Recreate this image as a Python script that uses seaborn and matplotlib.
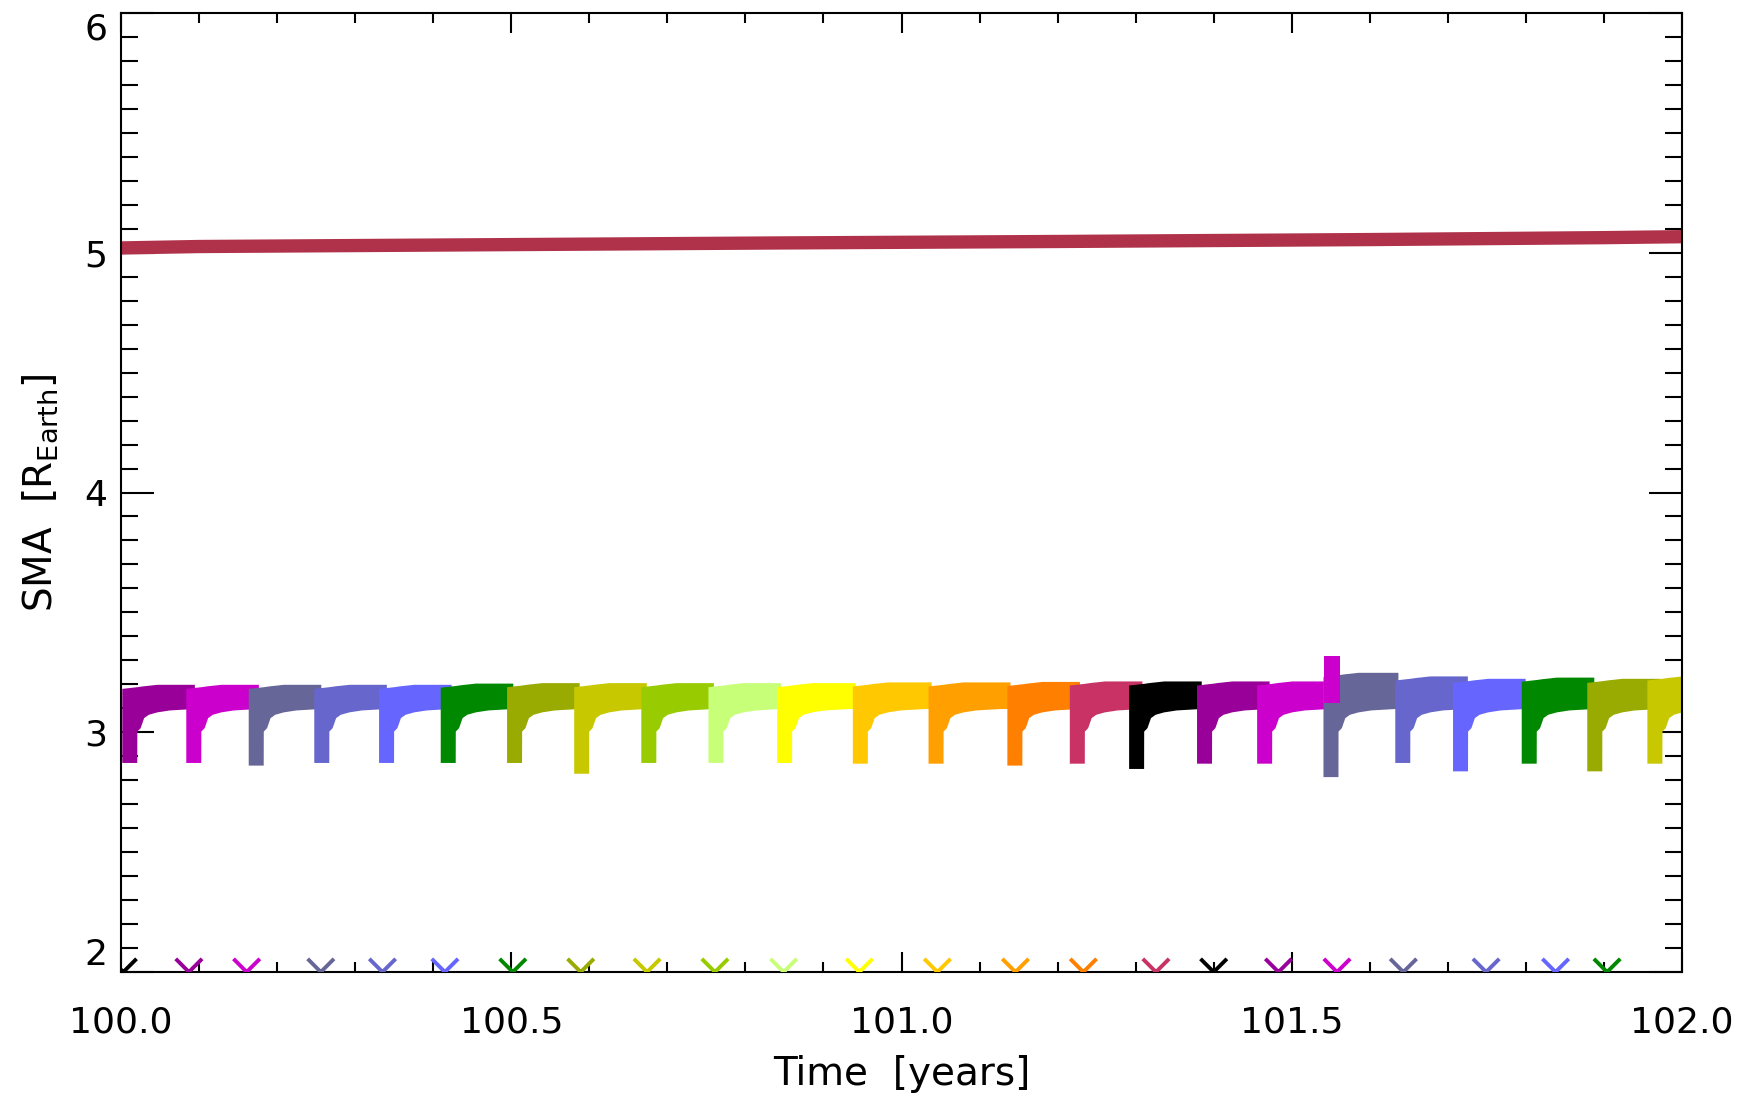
import numpy as np
import pandas as pd
import matplotlib
matplotlib.use("Agg")
import matplotlib.pyplot as plt
from matplotlib.ticker import MultipleLocator, FormatStrFormatter
import seaborn as sns

# colour cycle of the batches (IDL style table)
palette = ['#000000', '#990099', '#CC00CC', '#666699', '#6666CC', '#6666FF',
           '#008800', '#99AA00', '#C8C800', '#99CC00', '#C8FF78', '#FFFF00',
           '#FFC800', '#FFA000', '#FF8000', '#C83264']

# thick red line: SMA of the outer body
red_t = [100.0, 100.1, 100.5, 100.85, 101.2, 101.6, 101.9, 102.0]
red_sma = [5.020, 5.026, 5.034, 5.041, 5.047, 5.055, 5.063, 5.067]

# each batch: start time, lowest SMA of the stem, top of the band
seg_start = [100.001, 100.083, 100.163, 100.247, 100.330, 100.409, 100.494, 100.580,
             100.666, 100.752, 100.840, 100.937, 101.034, 101.135, 101.215, 101.291,
             101.378, 101.455, 101.540, 101.632, 101.706, 101.794, 101.878, 101.955]
seg_bottom = [2.874, 2.874, 2.863, 2.874, 2.874, 2.874, 2.874, 2.829,
              2.874, 2.874, 2.874, 2.871, 2.871, 2.863, 2.871, 2.849,
              2.871, 2.871, 2.815, 2.874, 2.839, 2.871, 2.839, 2.871]
seg_top = [3.200, 3.200, 3.200, 3.200, 3.200, 3.205, 3.207, 3.207,
           3.207, 3.207, 3.207, 3.210, 3.210, 3.212, 3.214, 3.214,
           3.214, 3.214, 3.250, 3.235, 3.225, 3.230, 3.225, 3.235]

# shape of one hook
hook_stem = 0.0192
hook_dt = [0.0193, 0.0235, 0.028, 0.034, 0.045, 0.061, 0.092]
hook_lo = [3.005, 3.019, 3.061, 3.075, 3.085, 3.093, 3.099]
hook_top_drop = [0.017, 0.010, 0.010, 0.008, 0.006, 0.004, 0.0, 0.0, 0.0]

# spike at the end of the second magenta batch
spike_t = [101.541, 101.562]
spike_lo = [3.12, 3.12]
spike_hi = [3.32, 3.32]

# event markers along the bottom axis
event_t = [100.003, 100.087, 100.161, 100.256, 100.335, 100.415, 100.502, 100.589,
           100.674, 100.761, 100.849, 100.946, 101.046, 101.146, 101.233, 101.326,
           101.400, 101.483, 101.558, 101.643, 101.749, 101.838, 101.904]

sns.set_style("ticks")
plt.rcParams['font.family'] = ['DejaVu Sans']
plt.rcParams['mathtext.fontset'] = 'dejavusans'
plt.rcParams['text.color'] = 'black'
plt.rcParams['axes.labelcolor'] = 'black'

fig = plt.figure(figsize=(17.56, 10.99), dpi=100)
ax = fig.add_axes([121 / 1756, 1 - 972 / 1099, 1561 / 1756, 959 / 1099])

# batches, later ones drawn over the tail of the earlier ones
for j, t0 in enumerate(seg_start):
    t_next = seg_start[j + 1] if j + 1 < len(seg_start) else 102.05
    t_end = max(t_next - t0 + 0.004, hook_dt[-1] + 0.001)
    dt = np.array([0.0, hook_stem] + hook_dt + [t_end])
    lo = np.array([seg_bottom[j], seg_bottom[j]] + hook_lo + [hook_lo[-1]])
    hi = seg_top[j] - np.array(hook_top_drop + [0.0])
    ax.fill_between(t0 + dt, lo, hi, color=palette[(j + 1) % len(palette)],
                    linewidth=0, zorder=2)

ax.fill_between(spike_t, spike_lo, spike_hi, color=palette[2], linewidth=0, zorder=3)

sns.lineplot(x=red_t, y=red_sma, color='#B0324A', linewidth=9.6, ax=ax, zorder=2)

events = pd.DataFrame({
    't': event_t,
    'sma': [2.0] * len(event_t),
    'colour': [palette[i % len(palette)] for i in range(len(event_t))],
})
sns.scatterplot(data=events, x='t', y='sma', hue='colour',
                palette={c: c for c in palette}, marker='x', s=360,
                linewidth=2.8, legend=False, ax=ax, zorder=4)

ax.set_xlim(100, 102)
ax.set_ylim(2, 6)
ax.xaxis.set_major_locator(MultipleLocator(0.5))
ax.xaxis.set_minor_locator(MultipleLocator(0.1))
ax.yaxis.set_major_locator(MultipleLocator(1))
ax.yaxis.set_minor_locator(MultipleLocator(0.1))
ax.xaxis.set_major_formatter(FormatStrFormatter('%.1f'))
ax.yaxis.set_major_formatter(FormatStrFormatter('%d'))

ax.tick_params(which='both', direction='in', top=True, right=True,
               width=1.5, colors='black', labelsize=26)
ax.tick_params(axis='x', which='major', length=14.4, pad=24)
ax.tick_params(axis='x', which='minor', length=7.2)
ax.tick_params(axis='y', which='major', length=23.8, pad=10)
ax.tick_params(axis='y', which='minor', length=12.2)
for sp in ax.spines.values():
    sp.set_linewidth(1.5)
    sp.set_color('black')

# IDL keeps the end labels inside the axis range
for loc, tick in zip(ax.yaxis.get_majorticklocs(), ax.yaxis.get_major_ticks()):
    if np.isclose(loc, 2):
        tick.label1.set_va('bottom')
    elif np.isclose(loc, 6):
        tick.label1.set_va('top')

ax.set_xlabel('Time  [years]', fontsize=28)
ax.set_ylabel('SMA  [R$_{\\mathrm{Earth}}$]', fontsize=28)
ax.xaxis.set_label_coords(0.5, -0.087)
ax.yaxis.set_label_coords(-0.039, 0.5)

fig.savefig('out.png', dpi=100)
